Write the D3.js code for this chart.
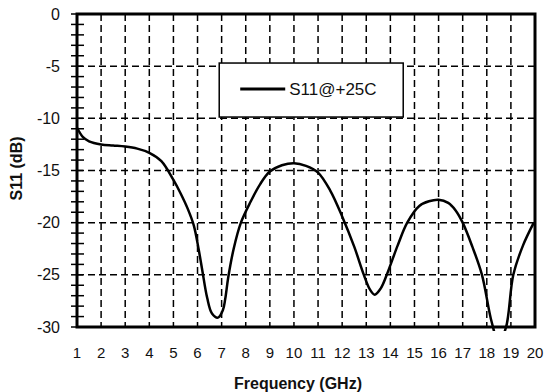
<!DOCTYPE html>
<html>
<head>
  <script src="https://d3js.org/d3.v7.min.js"></script>
  <style>
    body { margin:0; background:#fff; }
    text { font-family: "Liberation Sans", Arial, sans-serif; fill:#111; }
    .grid-line { stroke:#000; stroke-width:1.5; stroke-dasharray:7,4; }
    .frame { fill:none; stroke:#000; stroke-width:3; }
    .s11-line { fill:none; stroke:#000; stroke-width:2.5; }
    .tick-label { font-size:15px; }
    .axis-title { font-size:16px; font-weight:700; }
  </style>
</head>
<body>
<script>
// S11 readings (GHz, dB)
var freq = [1, 1.25, 1.5, 2, 2.5, 3, 3.5, 4, 4.5, 5, 5.3, 5.6, 5.85, 6.05, 6.2, 6.4, 6.6, 6.85, 7.05, 7.15, 7.27, 7.5, 7.8,
            8.2, 8.6, 9, 9.5, 10, 10.5, 11, 11.5, 12, 12.5, 12.9, 13.15, 13.35, 13.6, 13.85, 14.3, 14.7, 15.2, 15.6, 16,
            16.4, 16.7, 17, 17.4, 17.8, 18.2, 18.5, 18.8, 19.1, 19.5, 19.95];
var s11 = [-10.9, -11.8, -12.2, -12.5, -12.6, -12.7, -12.9, -13.3, -14.1, -15.9, -17.2, -18.7, -20.3, -22.6, -24.6, -27.2, -28.7, -29.1, -28.4, -27.3, -25.3, -22.5, -20,
           -18, -16.3, -15.1, -14.5, -14.3, -14.55, -15.2, -16.9, -19.4, -22.3, -25, -26.4, -26.9, -26.3, -25, -22.2, -20, -18.4, -17.95, -17.8,
           -18.1, -18.8, -20, -22.3, -25, -29.5, -31.5, -30, -25, -22.2, -20];
var xTicks = d3.range(1, 21);
var yTicks = [0, -5, -10, -15, -20, -25, -30];
var yMinor = d3.range(0, -31, -1);
var seriesName = "S11@+25C";

var margin = {top: 14, right: 11, bottom: 65, left: 77};
var width = 546 - margin.left - margin.right,
    height = 392 - margin.top - margin.bottom;

var svg = d3.select("body").append("svg")
    .attr("width", 546)
    .attr("height", 392)
  .append("g")
    .attr("transform", "translate(" + margin.left + "," + margin.top + ")");

var x = d3.scaleLinear().domain([1, 20]).range([0, width]);
var y = d3.scaleLinear().domain([-30, 0]).range([height, 0]);

svg.append("defs").append("clipPath")
    .attr("id", "clip")
  .append("rect")
    .attr("width", width)
    .attr("height", height + 4);

// dashed grid
svg.append("g").selectAll("line")
  .data(xTicks.slice(1, -1))
  .enter().append("line")
    .attr("class", "grid-line")
    .attr("x1", d => x(d)).attr("x2", d => x(d))
    .attr("y1", 0).attr("y2", height);

svg.append("g").selectAll("line")
  .data(yTicks.slice(1, -1))
  .enter().append("line")
    .attr("class", "grid-line")
    .attr("x1", 0).attr("x2", width)
    .attr("y1", d => y(d)).attr("y2", d => y(d));

// minor ticks inside left axis
svg.append("g").selectAll("line")
  .data(yMinor)
  .enter().append("line")
    .attr("stroke", "#000")
    .attr("stroke-width", 1.5)
    .attr("x1", -6).attr("x2", d => d % 5 === 0 ? 6 : 7)
    .attr("y1", d => y(d)).attr("y2", d => y(d));

// curve
var line = d3.line()
    .x((d, i) => x(freq[i]))
    .y(d => y(d))
    .curve(d3.curveCatmullRom.alpha(0.5));

svg.append("path")
    .datum(s11)
    .attr("class", "s11-line")
    .attr("clip-path", "url(#clip)")
    .attr("d", line);

svg.append("rect")
    .attr("class", "frame")
    .attr("width", width)
    .attr("height", height);

// axes labels
svg.append("g").selectAll("text")
  .data(xTicks)
  .enter().append("text")
    .attr("class", "tick-label")
    .attr("x", d => x(d))
    .attr("y", height + 31)
    .attr("text-anchor", "middle")
    .text(d => d);

svg.append("g").selectAll("text")
  .data(yTicks)
  .enter().append("text")
    .attr("class", "tick-label")
    .style("font-size", "16px")
    .attr("x", -17)
    .attr("y", d => y(d))
    .attr("dy", "0.35em")
    .attr("text-anchor", "end")
    .text(d => d);

svg.append("text")
    .attr("class", "axis-title")
    .attr("x", 221)
    .attr("y", height + 62)
    .attr("text-anchor", "middle")
    .text("Frequency (GHz)");

svg.append("text")
    .attr("class", "axis-title")
    .attr("text-anchor", "middle")
    .attr("transform", "translate(-55," + (height / 2 - 2) + ") rotate(-90)")
    .text("S11 (dB)");

// legend
var legend = svg.append("g")
    .attr("transform", "translate(" + x(6.9) + "," + y(-4.7) + ")");
legend.append("rect")
    .attr("width", 184)
    .attr("height", 54)
    .attr("fill", "#fff")
    .attr("stroke", "#000")
    .attr("stroke-width", 1.5);
legend.append("line")
    .attr("x1", 21).attr("x2", 66)
    .attr("y1", 26).attr("y2", 26)
    .attr("stroke", "#000")
    .attr("stroke-width", 3);
legend.append("text")
    .attr("x", 70)
    .attr("y", 26)
    .attr("dy", "0.35em")
    .style("font-size", "17px")
    .text(seriesName);
</script>
</body>
</html>
